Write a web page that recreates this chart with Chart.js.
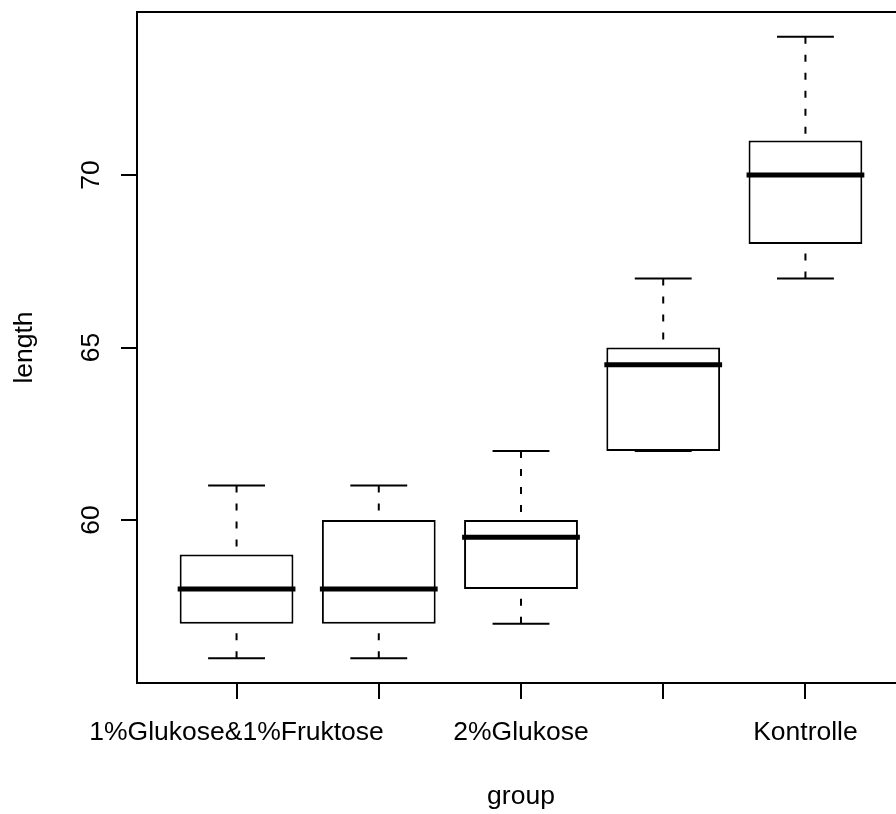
<!DOCTYPE html>
<html>
<head>
<meta charset="utf-8">
<script src="https://cdn.jsdelivr.net/npm/chart.js@4.4.1/dist/chart.umd.min.js"></script>
<style>
  html, body { margin: 0; padding: 0; background: #fff; overflow: hidden; }
  canvas { display: block; }
</style>
</head>
<body>
<canvas id="chart" width="920" height="814"></canvas>
<script>
// boxplot of length by group (R style)
const groups = ["1%Glukose&1%Fruktose", "2%Fruktose", "2%Glukose", "2%Saccharose", "Kontrolle"];
// R drops the labels that would overlap
const groupLabels = ["1%Glukose&1%Fruktose", "", "2%Glukose", "", "Kontrolle"];
const whiskerLow  = [56, 56, 57, 62, 67];
const q1          = [57, 57, 58, 62, 68];
const median      = [58, 58, 59.5, 64.5, 70];
const q3          = [59, 60, 60, 65, 71];
const whiskerHigh = [61, 61, 62, 67, 74];
const yTicks = [60, 65, 70];
const xRange = [0.3, 5.7];
const yRange = [55.28, 74.72];

const FONT = { family: "'Liberation Sans', Arial, sans-serif", size: 26.5 };

// frame, whiskers, medians and the rotated y labels
const boxExtras = {
  id: "boxExtras",
  afterDatasetsDraw(chart) {
    const { ctx, chartArea: a, scales: { x, y } } = chart;
    ctx.save();
    ctx.strokeStyle = "#000";
    ctx.lineWidth = 2;
    groups.forEach((g, i) => {
      const cx = x.getPixelForValue(i + 1);
      const capL = x.getPixelForValue(i + 1 - 0.2);
      const capR = x.getPixelForValue(i + 1 + 0.2);
      // dashed whiskers, from the cap to the box
      ctx.setLineDash([7, 11]);
      [[whiskerLow[i], q1[i]], [whiskerHigh[i], q3[i]]].forEach(([from, to]) => {
        ctx.beginPath();
        ctx.moveTo(cx, y.getPixelForValue(from));
        ctx.lineTo(cx, y.getPixelForValue(to));
        ctx.stroke();
      });
      ctx.setLineDash([]);
      [whiskerLow[i], whiskerHigh[i]].forEach(v => {
        ctx.beginPath();
        ctx.moveTo(capL, y.getPixelForValue(v));
        ctx.lineTo(capR, y.getPixelForValue(v));
        ctx.stroke();
      });
      // median
      ctx.lineWidth = 5;
      ctx.beginPath();
      ctx.moveTo(x.getPixelForValue(i + 1 - 0.4) - 2, y.getPixelForValue(median[i]));
      ctx.lineTo(x.getPixelForValue(i + 1 + 0.4) + 2, y.getPixelForValue(median[i]));
      ctx.stroke();
      ctx.lineWidth = 2;
    });
    // plot frame
    ctx.strokeRect(a.left, a.top, a.right - a.left, a.bottom - a.top);
    // y tick labels, parallel to the axis
    ctx.fillStyle = "#000";
    ctx.font = FONT.size + "px " + FONT.family;
    ctx.textAlign = "center";
    ctx.textBaseline = "alphabetic";
    yTicks.forEach(t => {
      ctx.save();
      ctx.translate(a.left - 38, y.getPixelForValue(t));
      ctx.rotate(-Math.PI / 2);
      ctx.fillText(String(t), 0, 0);
      ctx.restore();
    });
    ctx.restore();
  }
};

new Chart(document.getElementById("chart"), {
  type: "bar",
  data: {
    datasets: [{
      data: groups.map((g, i) => ({ x: i + 1, y: [q1[i], q3[i]] })),
      backgroundColor: "#fff",
      borderColor: "#000",
      borderWidth: 2,
      borderSkipped: false,
      barPercentage: 0.8,
      categoryPercentage: 1.0
    }]
  },
  options: {
    responsive: false,
    animation: false,
    layout: { padding: { left: 0, top: 12, right: 15, bottom: 0 } },
    plugins: { legend: { display: false }, tooltip: { enabled: false } },
    scales: {
      x: {
        type: "linear",
        offset: false,
        min: xRange[0],
        max: xRange[1],
        afterBuildTicks: s => { s.ticks = groups.map((g, i) => ({ value: i + 1 })); },
        afterFit: s => { s.height = 131; },
        grid: { offset: false, drawOnChartArea: false, drawTicks: true, tickLength: 16, color: "#000", lineWidth: 2 },
        border: { display: false },
        ticks: {
          autoSkip: false, maxRotation: 0, minRotation: 0,
          padding: 18, color: "#000", font: FONT,
          callback: v => groupLabels[v - 1] || ""
        },
        title: { display: true, text: "group", color: "#000", font: FONT, padding: { top: 0, bottom: 1 } }
      },
      y: {
        min: yRange[0],
        max: yRange[1],
        afterBuildTicks: s => { s.ticks = yTicks.map(v => ({ value: v })); },
        afterFit: s => { s.width = 137; },
        grid: { drawOnChartArea: false, drawTicks: true, tickLength: 16, color: "#000", lineWidth: 2 },
        border: { display: false },
        ticks: { display: false },
        title: { display: true, text: "length", color: "#000", font: FONT, padding: { top: 9, bottom: 0 } }
      }
    }
  },
  plugins: [boxExtras]
});
</script>
</body>
</html>
